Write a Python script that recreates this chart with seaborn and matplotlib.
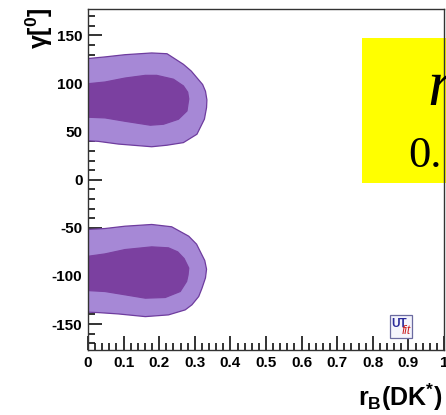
import matplotlib
matplotlib.use("Agg")
import matplotlib.pyplot as plt
from matplotlib.patches import Rectangle
from matplotlib.ticker import MultipleLocator
import seaborn as sns
import pandas as pd

# 68% / 95% probability regions in the (r_B, gamma) plane, as boundary vertices
upper_95_r = [0.0, 0.048, 0.104, 0.179, 0.222, 0.268, 0.290, 0.306, 0.322, 0.330, 0.334,
              0.333, 0.327, 0.306, 0.268, 0.222, 0.179, 0.085, 0.029, 0.0]
upper_95_g = [126.0, 127.7, 130.0, 131.8, 131.0, 120.0, 113.0, 106.0, 99.0, 92.0, 83.0,
              75.0, 63.0, 47.3, 38.6, 35.9, 34.3, 37.1, 39.9, 40.5]
upper_68_r = [0.0, 0.048, 0.104, 0.161, 0.193, 0.240, 0.268, 0.280, 0.283, 0.278, 0.254, 0.212,
              0.175, 0.104, 0.048, 0.0]
upper_68_g = [99.8, 101.6, 105.7, 108.5, 108.5, 104.5, 97.5, 91.0, 84.0, 71.5, 62.9, 57.7,
              56.7, 60.8, 64.3, 65.0]

lower_95_r = [0.0, 0.048, 0.104, 0.179, 0.235, 0.283, 0.305, 0.315, 0.328, 0.333, 0.330,
              0.320, 0.311, 0.292, 0.273, 0.226, 0.161, 0.085, 0.029, 0.0]
lower_95_g = [-51.7, -50.7, -48.3, -46.5, -48.9, -58.7, -67.0, -74.4, -84.0, -93.0, -102.0,
              -113.0, -121.4, -130.0, -135.3, -140.5, -142.3, -139.5, -138.1, -137.7]
lower_68_r = [0.0, 0.048, 0.104, 0.179, 0.226, 0.252, 0.270, 0.283, 0.281, 0.277, 0.259,
              0.217, 0.161, 0.104, 0.048, 0.0]
lower_68_g = [-79.6, -77.1, -72.6, -69.8, -70.8, -75.0, -82.0, -91.8, -99.0, -105.7, -116.2,
              -122.4, -123.1, -119.6, -116.2, -115.2]

x_ticks = [0, 0.1, 0.2, 0.3, 0.4, 0.5, 0.6, 0.7, 0.8, 0.9, 1]
x_tick_labels = ["0", "0.1", "0.2", "0.3", "0.4", "0.5", "0.6", "0.7", "0.8", "0.9", "1"]
y_ticks = [-150, -100, -50, 0, 50, 100, 150]

LIGHT = "#a688d6"
DARK = "#7b40a0"
EDGE = "#6e3c9e"

sns.set_style("ticks")
plt.rcParams["font.family"] = ["Liberation Sans", "DejaVu Sans"]
plt.rcParams["font.weight"] = "bold"
plt.rcParams["text.color"] = "black"
plt.rcParams["xtick.color"] = "black"
plt.rcParams["ytick.color"] = "black"
plt.rcParams["axes.unicode_minus"] = False
plt.rcParams["mathtext.fontset"] = "custom"
plt.rcParams["mathtext.rm"] = "Liberation Sans:bold"
plt.rcParams["mathtext.it"] = "Liberation Sans:bold"
plt.rcParams["mathtext.bf"] = "Liberation Sans:bold"
plt.rcParams["mathtext.default"] = "regular"

fig = plt.figure(figsize=(4.46, 4.15), dpi=100)
fig.patch.set_facecolor("white")
ax = fig.add_axes([88 / 446, 1 - 350 / 415, (444 - 88) / 446, (350 - 9) / 415])
ax.set_facecolor("white")


def region(r, g, color, edge, z):
    df = pd.DataFrame({"r": r, "g": g})
    ax.fill(df["r"], df["g"], color=color, lw=0, zorder=z)
    sns.lineplot(data=df, x="r", y="g", sort=False, estimator=None, color=edge,
                 lw=0.9, ax=ax, zorder=z + 0.1)


region(upper_95_r, upper_95_g, LIGHT, EDGE, 1)
region(upper_68_r, upper_68_g, DARK, DARK, 2)
region(lower_95_r, lower_95_g, LIGHT, EDGE, 1)
region(lower_68_r, lower_68_g, DARK, DARK, 2)

ax.set_xlim(0, 1)
ax.set_ylim(-177, 177.5)
ax.set_xticks(x_ticks)
ax.set_xticklabels(x_tick_labels)
ax.set_yticks(y_ticks)
ax.xaxis.set_minor_locator(MultipleLocator(0.02))
ax.yaxis.set_minor_locator(MultipleLocator(10))
ax.tick_params(which="major", direction="in", length=10, width=1.2, color="#111111",
               labelcolor="black", labelsize=11, pad=4)
ax.tick_params(which="minor", direction="in", length=5, width=1.2, color="#111111")
for lab in ax.get_xticklabels() + ax.get_yticklabels():
    lab.set_fontweight("bold")
for s in ax.spines.values():
    s.set_visible(True)
    s.set_linewidth(1.0)
    s.set_color("#333333")
    s.set_zorder(6)
ax.set_xlabel("")
ax.set_ylabel("")

# result box
box = Rectangle((362 / 446, 1 - 183 / 415), 120 / 446, 145 / 415, transform=fig.transFigure,
                facecolor="#ffff00", edgecolor="none", zorder=4, clip_on=False)
ax.add_patch(box)
fig.text(427 / 446, 1 - 105 / 415, "r", fontsize=47, family="Liberation Serif",
         style="italic", fontweight="normal", ha="left", va="baseline", zorder=5)
fig.text(408 / 446, 1 - 167 / 415, "0.", fontsize=32, family="Liberation Serif",
         fontweight="normal", ha="left", va="baseline", zorder=5)

# logo
logo = Rectangle((390 / 446, 1 - 338 / 415), 22 / 446, 23 / 415, transform=fig.transFigure,
                 facecolor="#f4f4fc", edgecolor="#6a6aa0", lw=0.9, zorder=4, clip_on=False)
ax.add_patch(logo)
fig.text(391.5 / 446, 1 - 327 / 415, "UT", fontsize=8.5, color="#2a2a9a", fontweight="bold",
         ha="left", va="baseline", zorder=5)
fig.text(402 / 446, 1 - 334 / 415, "fit", fontsize=8.5, color="#cc2020", style="italic",
         fontweight="normal", ha="left", va="baseline", zorder=5)

# axis titles
fig.text(443 / 446, 1 - 406 / 415, r"$r_{B}(DK^{*})$", fontsize=18, ha="right", va="baseline")
fig.text(39 / 446, 1 - 7 / 415, r"$\gamma[^{0}]$", fontsize=18, rotation=90,
         ha="center", va="top")

fig.savefig("out.png", dpi=100)
